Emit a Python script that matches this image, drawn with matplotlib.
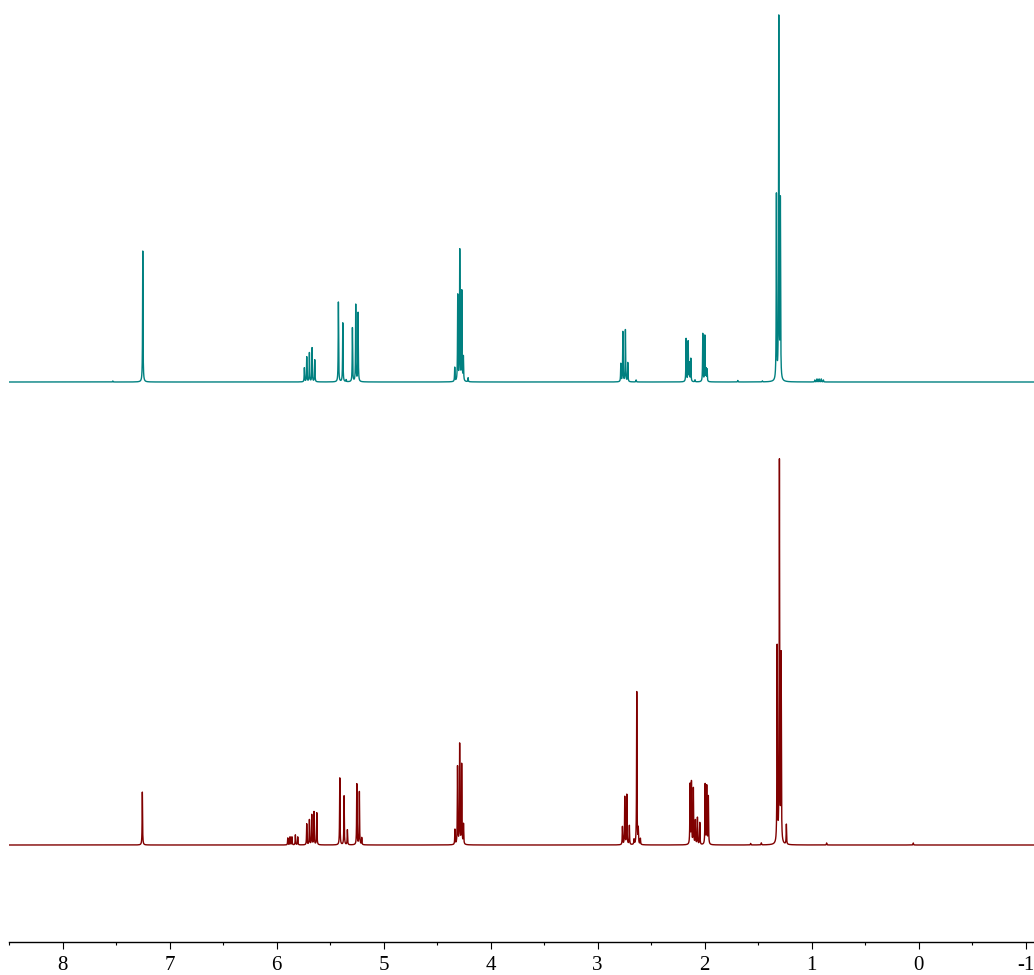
import numpy as np
import matplotlib
matplotlib.use("Agg")
import matplotlib.pyplot as plt
from matplotlib.ticker import MultipleLocator

plt.rcParams['font.family'] = ['Liberation Serif', 'DejaVu Serif']

# peak lists: shift (ppm) and height (relative units)
top_ppm = [7.53, 7.250,
           5.740, 5.718, 5.693, 5.668, 5.643,
           5.422, 5.381, 5.35, 5.291, 5.260, 5.238,
           4.335, 4.307, 4.288, 4.269, 4.254, 4.21,
           2.783, 2.764, 2.740, 2.718, 2.64,
           2.173, 2.154, 2.142, 2.129, 2.09,
           2.017, 1.998, 1.986, 1.977, 1.69, 1.46,
           1.329, 1.307, 1.292,
           0.97, 0.95, 0.93, 0.91, 0.89]
top_h = [1, 131,
         14, 25, 29, 34, 22,
         80, 59, 2, 54, 77, 69,
         14, 86, 131, 90, 24, 4,
         18, 50, 52, 19, 2,
         43, 40, 18, 23, 2,
         48, 46, 12, 12, 1.5, 1,
         185, 362, 178,
         2, 3, 3, 3, 2]

bot_ppm = [7.254,
           5.895, 5.874, 5.856, 5.824, 5.802,
           5.718, 5.693, 5.671, 5.650, 5.624,
           5.409, 5.369, 5.338, 5.250, 5.226, 5.204,
           4.333, 4.309, 4.289, 4.270, 4.253,
           2.768, 2.746, 2.727, 2.703,
           2.660, 2.634, 2.620, 2.600,
           2.136, 2.123, 2.105, 2.086, 2.067, 2.045,
           1.995, 1.980, 1.965,
           1.57, 1.47,
           1.322, 1.301, 1.285, 1.236,
           0.86, 0.05]
bot_h = [53,
         7, 8, 8, 10, 8,
         21, 25, 30, 33, 32,
         67, 49, 15, 61, 53, 7,
         15, 78, 100, 80, 20,
         18, 48, 50, 19,
         5, 153, 15, 6,
         60, 62, 56, 24, 27, 22,
         60, 58, 48,
         1.5, 2,
         196, 381, 187, 20,
         2, 2]


def spectrum(ppm, shifts, heights, hw=0.0022):
    y = np.zeros_like(ppm)
    for c, h in zip(shifts, heights):
        y += h / (1 + ((ppm - c) / hw) ** 2)
    return y


ppm = np.linspace(8.5, -1.08, 40000)
top = spectrum(ppm, top_ppm, top_h)
bot = spectrum(ppm, bot_ppm, bot_h)
offset = 463

fig = plt.figure(figsize=(10.34, 9.75), dpi=100)
ax = fig.add_axes([9 / 1034, 33 / 975, 1025 / 1034, 942 / 975])
ax.plot(ppm, top + offset, color='#008080', lw=1.0)
ax.plot(ppm, bot, color='#800000', lw=1.0)
ax.set_xlim(8.5, -1.078)
ax.set_ylim(-97, 845)

for s in ['top', 'left', 'right']:
    ax.spines[s].set_visible(False)
ax.spines['bottom'].set_linewidth(1.0)
ax.set_yticks([])
ax.xaxis.set_major_locator(MultipleLocator(1))
ax.xaxis.set_minor_locator(MultipleLocator(0.5))
ax.set_xticks(range(-1, 9))
ax.set_xticklabels([str(v) for v in range(-1, 9)])
ax.tick_params(axis='x', which='major', direction='out', length=5, width=0.8,
               labelsize=15, pad=5)
ax.tick_params(axis='x', which='minor', direction='out', length=2.5, width=0.8)

fig.savefig('out.png', dpi=100)
